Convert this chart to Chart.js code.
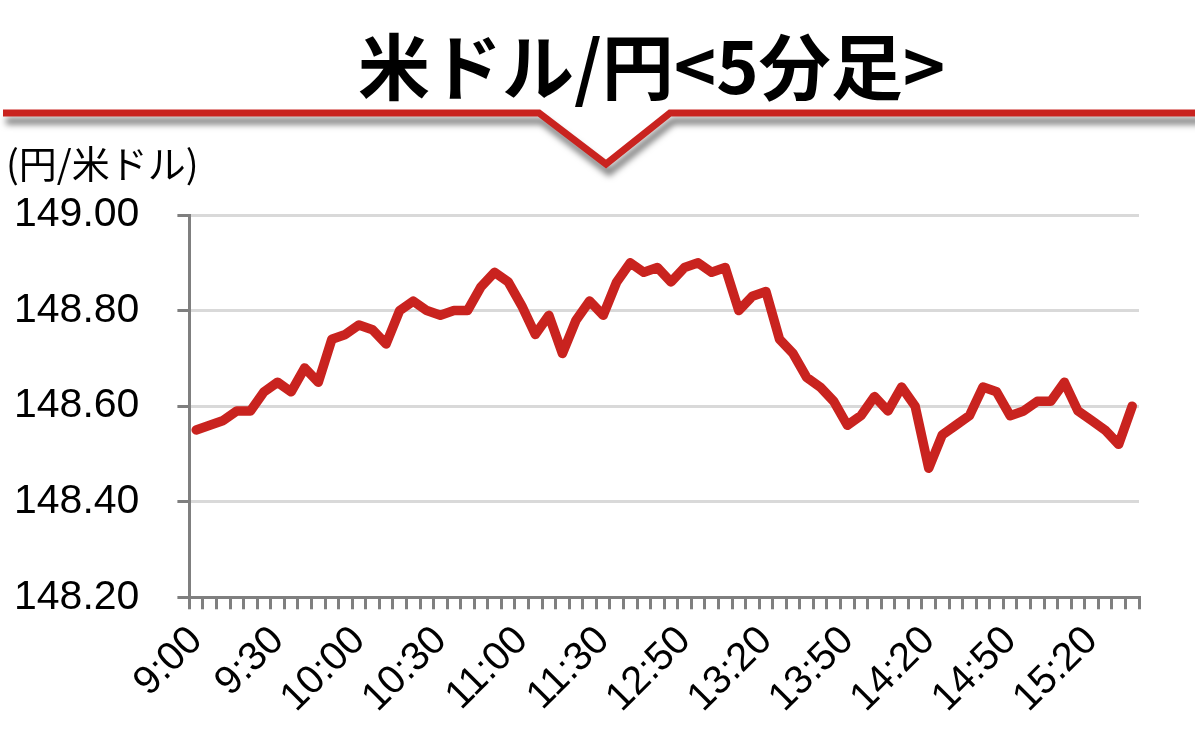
<!DOCTYPE html>
<html lang="ja">
<head>
<meta charset="utf-8">
<title>米ドル/円 5分足</title>
<script src="https://cdn.jsdelivr.net/npm/chart.js@4.4.1/dist/chart.umd.min.js"></script>
<style>
  html, body { margin: 0; padding: 0; background: #fff; }
  #wrap { position: relative; width: 1195px; height: 751px; overflow: hidden; }
  #fxChart { position: absolute; left: 0; top: 0; }
  .title {
    position: absolute; left: 358px; top: 27px;
    font: 700 72px/72px "Noto Sans CJK JP", sans-serif;
    color: #000; white-space: nowrap;
  }
  .unit {
    position: absolute; left: 6px; top: 143px;
    font: 400 38px/38px "Noto Sans CJK JP", sans-serif;
    color: #000; white-space: nowrap;
  }
</style>
</head>
<body>
<div id="wrap">
  <canvas id="fxChart" width="1195" height="751"></canvas>
  <div class="title">米ドル/円&lt;5分足&gt;</div>
  <div class="unit">(円/米ドル)</div>
</div>
<script>
// 5-minute bars, morning session then afternoon session
const timeLabels = [
  "9:00", "9:05", "9:10", "9:15", "9:20", "9:25", "9:30", "9:35", "9:40", "9:45",
  "9:50", "9:55", "10:00", "10:05", "10:10", "10:15", "10:20", "10:25", "10:30", "10:35",
  "10:40", "10:45", "10:50", "10:55", "11:00", "11:05", "11:10", "11:15", "11:20", "11:25",
  "11:30",
  "12:25", "12:30", "12:35", "12:40", "12:45", "12:50", "12:55", "13:00", "13:05",
  "13:10", "13:15", "13:20", "13:25", "13:30", "13:35", "13:40", "13:45", "13:50", "13:55",
  "14:00", "14:05", "14:10", "14:15", "14:20", "14:25", "14:30", "14:35", "14:40", "14:45",
  "14:50", "14:55", "15:00", "15:05", "15:10", "15:15", "15:20", "15:25", "15:30", "15:35"
];

const usdJpy = [
  148.55, 148.56, 148.57, 148.59, 148.59, 148.63, 148.65, 148.63, 148.68, 148.65,
  148.74, 148.75, 148.77, 148.76, 148.73, 148.80, 148.82, 148.80, 148.79, 148.80,
  148.80, 148.85, 148.88, 148.86, 148.81, 148.75, 148.79, 148.71, 148.78, 148.82,
  148.79,
  148.86, 148.90, 148.88, 148.89, 148.86, 148.89, 148.90, 148.88, 148.89,
  148.80, 148.83, 148.84, 148.74, 148.71, 148.66, 148.64, 148.61, 148.56, 148.58,
  148.62, 148.59, 148.64, 148.60, 148.47, 148.54, 148.56, 148.58, 148.64, 148.63,
  148.58, 148.59, 148.61, 148.61, 148.65, 148.59, 148.57, 148.55, 148.52, 148.60
];

// labels actually printed under the axis
const xTickLabels = ["9:00", "9:30", "10:00", "10:30", "11:00", "11:30",
  "12:50", "13:20", "13:50", "14:20", "14:50", "15:20"];

const yMin = 148.2;
const yMax = 149.0;
const yStep = 0.2;

const lineRed = "#C9231F";
const axisGray = "#7F7F7F";
const gridGray = "#D9D9D9";
const tickFont = "'Liberation Sans', Arial, sans-serif";

// red rule with a notch under the heading
const titleRule = {
  id: "titleRule",
  beforeDraw(chart) {
    const ctx = chart.ctx;
    ctx.save();
    ctx.strokeStyle = lineRed;
    ctx.lineWidth = 7;
    ctx.lineJoin = "miter";
    ctx.shadowColor = "rgba(0,0,0,0.5)";
    ctx.shadowBlur = 6;
    ctx.shadowOffsetX = 3;
    ctx.shadowOffsetY = 8;
    ctx.beginPath();
    ctx.moveTo(3, 113);
    ctx.lineTo(539, 113);
    ctx.lineTo(606, 164);
    ctx.lineTo(670, 113);
    ctx.lineTo(1200, 113);
    ctx.stroke();
    ctx.restore();
  }
};

new Chart(document.getElementById("fxChart"), {
  type: "line",
  data: {
    labels: timeLabels,
    datasets: [{
      label: "米ドル/円",
      data: usdJpy,
      borderColor: lineRed,
      borderWidth: 9.5,
      borderJoinStyle: "round",
      borderCapStyle: "round",
      pointRadius: 0,
      tension: 0,
      fill: false,
    }],
  },
  options: {
    responsive: false,
    animation: false,
    devicePixelRatio: 1,
    // tick padding is counted twice in the axis size, hence the odd paddings
    layout: { padding: { top: 215, left: -24, right: 56, bottom: 21 } },
    plugins: {
      legend: { display: false },
      tooltip: { enabled: false },
    },
    scales: {
      x: {
        offset: true,
        grid: {
          offset: true,
          drawOnChartArea: false,
          drawTicks: true,
          tickLength: 12,
          tickWidth: 3,
          tickColor: axisGray,
          lineWidth: 3,
        },
        border: { color: axisGray, width: 3 },
        ticks: {
          autoSkip: false,
          maxRotation: 45,
          minRotation: 45,
          padding: 8,
          color: "#000",
          font: { family: tickFont, size: 40 },
          callback(value, index) {
            const t = timeLabels[index];
            return xTickLabels.includes(t) ? t : "";
          },
        },
      },
      y: {
        min: yMin,
        max: yMax,
        grid: {
          color: gridGray,
          lineWidth: 3,
          tickColor: axisGray,
          tickLength: 12,
          tickWidth: 3,
        },
        border: { color: axisGray, width: 3 },
        ticks: {
          stepSize: yStep,
          padding: 38,
          color: "#000",
          font: { family: tickFont, size: 41 },
          callback: (v) => v.toFixed(2),
        },
      },
    },
  },
  plugins: [titleRule],
});
</script>
</body>
</html>
